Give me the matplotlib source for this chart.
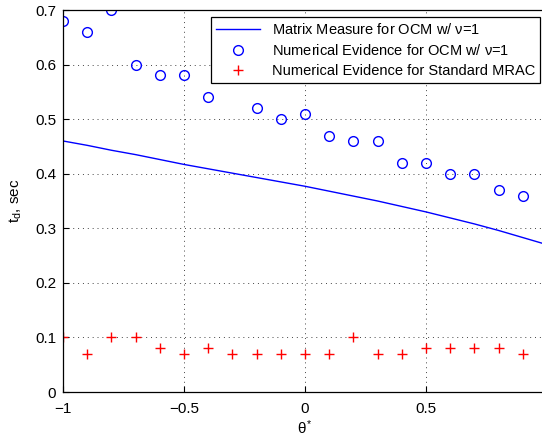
"""
t_d vs theta*, matrix measure vs numerical evidence
"""
import numpy as np
import matplotlib.pyplot as plt

plt.rcParams['font.family'] = ['Liberation Sans', 'DejaVu Sans']
plt.rcParams['mathtext.fontset'] = 'custom'
plt.rcParams['mathtext.rm'] = 'Liberation Sans'
plt.rcParams['mathtext.it'] = 'Liberation Sans'

# matrix measure curve
theta_line = [-1.0, -0.9, -0.8, -0.7, -0.6, -0.5, -0.4, -0.3, -0.2, -0.1, 0.0,
              0.1, 0.2, 0.3, 0.4, 0.5, 0.6, 0.7, 0.8, 0.9, 1.0]
td_line = [0.460, 0.452, 0.443, 0.435, 0.426, 0.417, 0.409, 0.401, 0.393, 0.385, 0.377,
           0.368, 0.359, 0.350, 0.340, 0.330, 0.319, 0.308, 0.296, 0.283, 0.270]

# numerical evidence, OCM
theta_ocm = [-1.0, -0.9, -0.8, -0.7, -0.6, -0.5, -0.4, -0.2, -0.1, 0.0,
             0.1, 0.2, 0.3, 0.4, 0.5, 0.6, 0.7, 0.8, 0.9]
td_ocm = [0.68, 0.66, 0.70, 0.60, 0.58, 0.58, 0.54, 0.52, 0.50, 0.51,
          0.47, 0.46, 0.46, 0.42, 0.42, 0.40, 0.40, 0.37, 0.36]

# numerical evidence, standard MRAC
theta_mrac = [-1.0, -0.9, -0.8, -0.7, -0.6, -0.5, -0.4, -0.3, -0.2, -0.1,
              0.0, 0.1, 0.2, 0.3, 0.4, 0.5, 0.6, 0.7, 0.8, 0.9]
td_mrac = [0.10, 0.07, 0.10, 0.10, 0.08, 0.07, 0.08, 0.07, 0.07, 0.07,
           0.07, 0.07, 0.10, 0.07, 0.07, 0.08, 0.08, 0.08, 0.08, 0.07]

W, H = 542, 438
fig = plt.figure(figsize=(W / 100, H / 100), dpi=100)
# axes runs a bit past the right edge (cropped like the original)
ax = fig.add_axes([63 / W, (H - 392) / H, 484 / W, 382 / H])

ax.plot(theta_line, td_line, color='#0000ff', lw=1.0,
        label=r'Matrix Measure for OCM w/ $\nu$=1')
ax.plot(theta_ocm, td_ocm, 'o', mfc='none', mec='#0000ff', ms=7, mew=1.0,
        label=r'Numerical Evidence for OCM w/ $\nu$=1')
ax.plot(theta_mrac, td_mrac, '+', color='#ff0000', ms=7, mew=1.0,
        label='Numerical Evidence for Standard MRAC')

ax.set_xlim(-1, 1)
ax.set_ylim(0, 0.7)
ax.set_xticks([-1, -0.5, 0, 0.5])
ax.set_xticklabels(['\u22121', '\u22120.5', '0', '0.5'])
ax.set_yticks(np.arange(0, 0.71, 0.1))
ax.set_yticklabels(['0', '0.1', '0.2', '0.3', '0.4', '0.5', '0.6', '0.7'])
ax.tick_params(direction='in', labelsize=11, length=4, width=0.8)
ax.tick_params(axis='x', pad=7)
ax.tick_params(axis='y', pad=5)
ax.grid(True, linestyle=(0, (1, 4)), color='#444444', lw=0.7)
for s in ax.spines.values():
    s.set_linewidth(0.9)

ax.set_xlabel(r'$\theta^{*}$', fontsize=11, labelpad=2)
ax.set_ylabel(r'$t_{d}$, sec', fontsize=11, labelpad=8)

leg = ax.legend(loc='upper right', bbox_to_anchor=(540 / W, 1 - 17 / H),
                bbox_transform=fig.transFigure, borderaxespad=0,
                fontsize=10.5, fancybox=False, framealpha=1,
                edgecolor='black', handlelength=3.0, labelspacing=0.4,
                borderpad=0.35, handletextpad=0.8)
leg.get_frame().set_linewidth(0.9)

fig.savefig('out.png', dpi=100)
